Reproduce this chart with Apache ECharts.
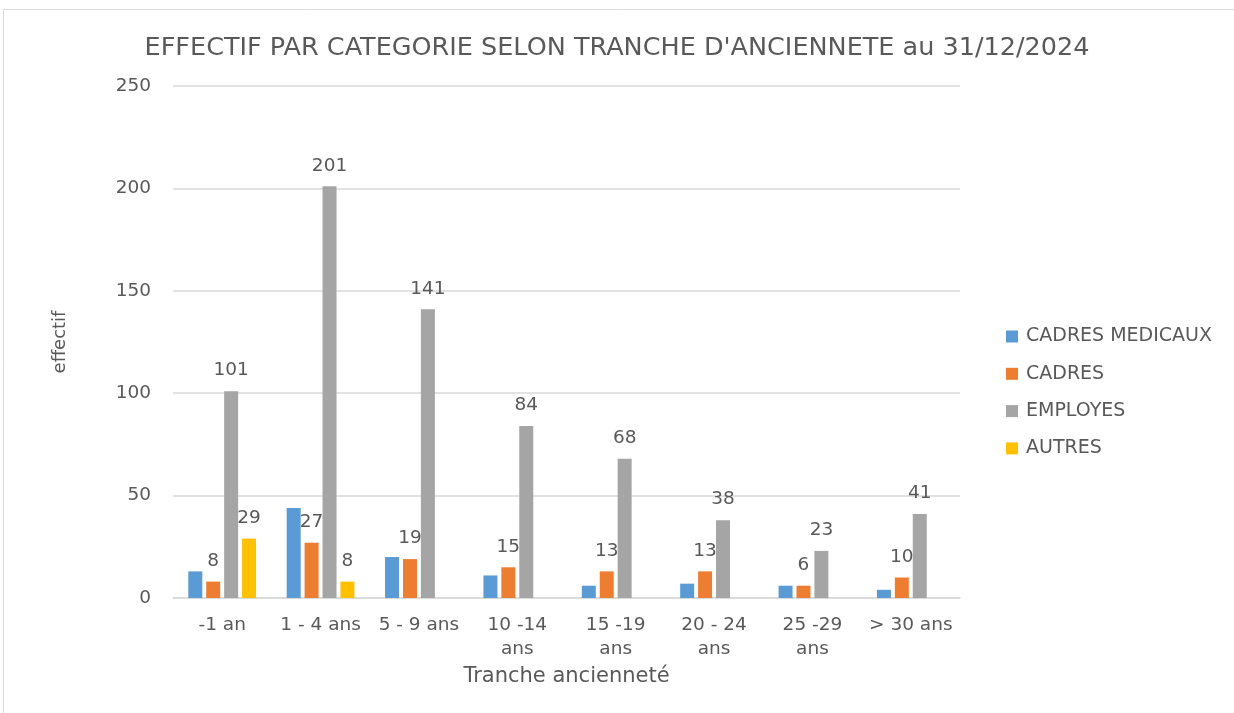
<!DOCTYPE html>
<html>
<head>
    <meta charset="utf-8">
    <title>Effectif par catégorie</title>
    <script src="https://cdn.jsdelivr.net/npm/echarts@6/dist/echarts.min.js"></script>
    <style>
        html, body { margin: 0; padding: 0; background: #fff; }
    </style>
</head>
<body>
    <div id="main" style="width: 1234px;height:713px;"></div>
    <script type="text/javascript">
        // données
        var tranches = ['-1 an', '1 - 4 ans', '5 - 9 ans', '10 -14\nans', '15 -19\nans', '20 - 24\nans', '25 -29\nans', '> 30 ans'];
        var cadresMedicaux = [13, 44, 20, 11, 6, 7, 6, 4];
        var cadres = [8, 27, 19, 15, 13, 13, 6, 10];
        var employes = [101, 201, 141, 84, 68, 38, 23, 41];
        var autres = [29, 8, null, null, null, null, null, null];
        var yTicks = [0, 50, 100, 150, 200, 250];

        var police = 'DejaVu Sans';
        var gris = '#595959';

        var myChart = echarts.init(document.getElementById('main'));

        var etiquette = {
            show: true,
            position: 'top',
            distance: 11,
            color: gris,
            fontFamily: police,
            fontSize: 18.5
        };

        var option = {
            backgroundColor: '#fff',
            textStyle: { fontFamily: police },
            title: {
                text: "EFFECTIF PAR CATEGORIE SELON TRANCHE D'ANCIENNETE au 31/12/2024",
                left: 'center',
                top: 30,
                textStyle: { color: gris, fontSize: 25.5, fontWeight: 'normal', fontFamily: police }
            },
            // cadre du graphique
            graphic: [{
                type: 'rect',
                shape: { x: 3.5, y: 9.5, width: 1300, height: 800 },
                style: { fill: 'none', stroke: '#d9d9d9', lineWidth: 1 },
                silent: true
            }],
            legend: {
                orient: 'vertical',
                left: 1001,
                top: 322,
                itemWidth: 12,
                itemHeight: 12,
                itemGap: 18.3,
                icon: 'rect',
                textStyle: { color: gris, fontSize: 19, fontFamily: police, padding: [0, 0, 0, 3] },
                data: ['CADRES MEDICAUX', 'CADRES', 'EMPLOYES', 'AUTRES']
            },
            grid: {
                left: 173,
                right: 274,
                top: 86,
                bottom: 115
            },
            xAxis: {
                type: 'category',
                data: tranches,
                name: 'Tranche ancienneté',
                nameLocation: 'middle',
                nameGap: 61,
                nameTextStyle: { color: gris, fontSize: 21, fontFamily: police },
                axisLine: { lineStyle: { color: '#d9d9d9', width: 1.5 } },
                axisTick: { show: false },
                axisLabel: { color: gris, fontSize: 18.5, fontFamily: police, margin: 15, lineHeight: 24, interval: 0 }
            },
            yAxis: {
                type: 'value',
                min: yTicks[0],
                max: yTicks[yTicks.length - 1],
                interval: 50,
                name: 'effectif',
                nameLocation: 'middle',
                nameGap: 104,
                nameRotate: 90,
                nameTextStyle: { color: gris, fontSize: 18, fontFamily: police },
                axisLine: { show: false },
                axisTick: { show: false },
                axisLabel: { color: gris, fontSize: 18.5, fontFamily: police, margin: 22 },
                splitLine: { lineStyle: { color: '#d9d9d9', width: 1.5 } }
            },
            series: [{
                name: 'CADRES MEDICAUX',
                type: 'bar',
                data: cadresMedicaux,
                itemStyle: { color: '#5B9BD5' },
                barWidth: 14,
                barGap: '28%',
                barCategoryGap: '30%'
            }, {
                name: 'CADRES',
                type: 'bar',
                data: cadres,
                itemStyle: { color: '#ED7D31' },
                barWidth: 14,
                label: etiquette
            }, {
                name: 'EMPLOYES',
                type: 'bar',
                data: employes,
                itemStyle: { color: '#A5A5A5' },
                barWidth: 14,
                label: etiquette
            }, {
                name: 'AUTRES',
                type: 'bar',
                data: autres,
                itemStyle: { color: '#FFC000' },
                barWidth: 14,
                label: etiquette
            }]
        };

        myChart.setOption(option);
    </script>
</body>
</html>
